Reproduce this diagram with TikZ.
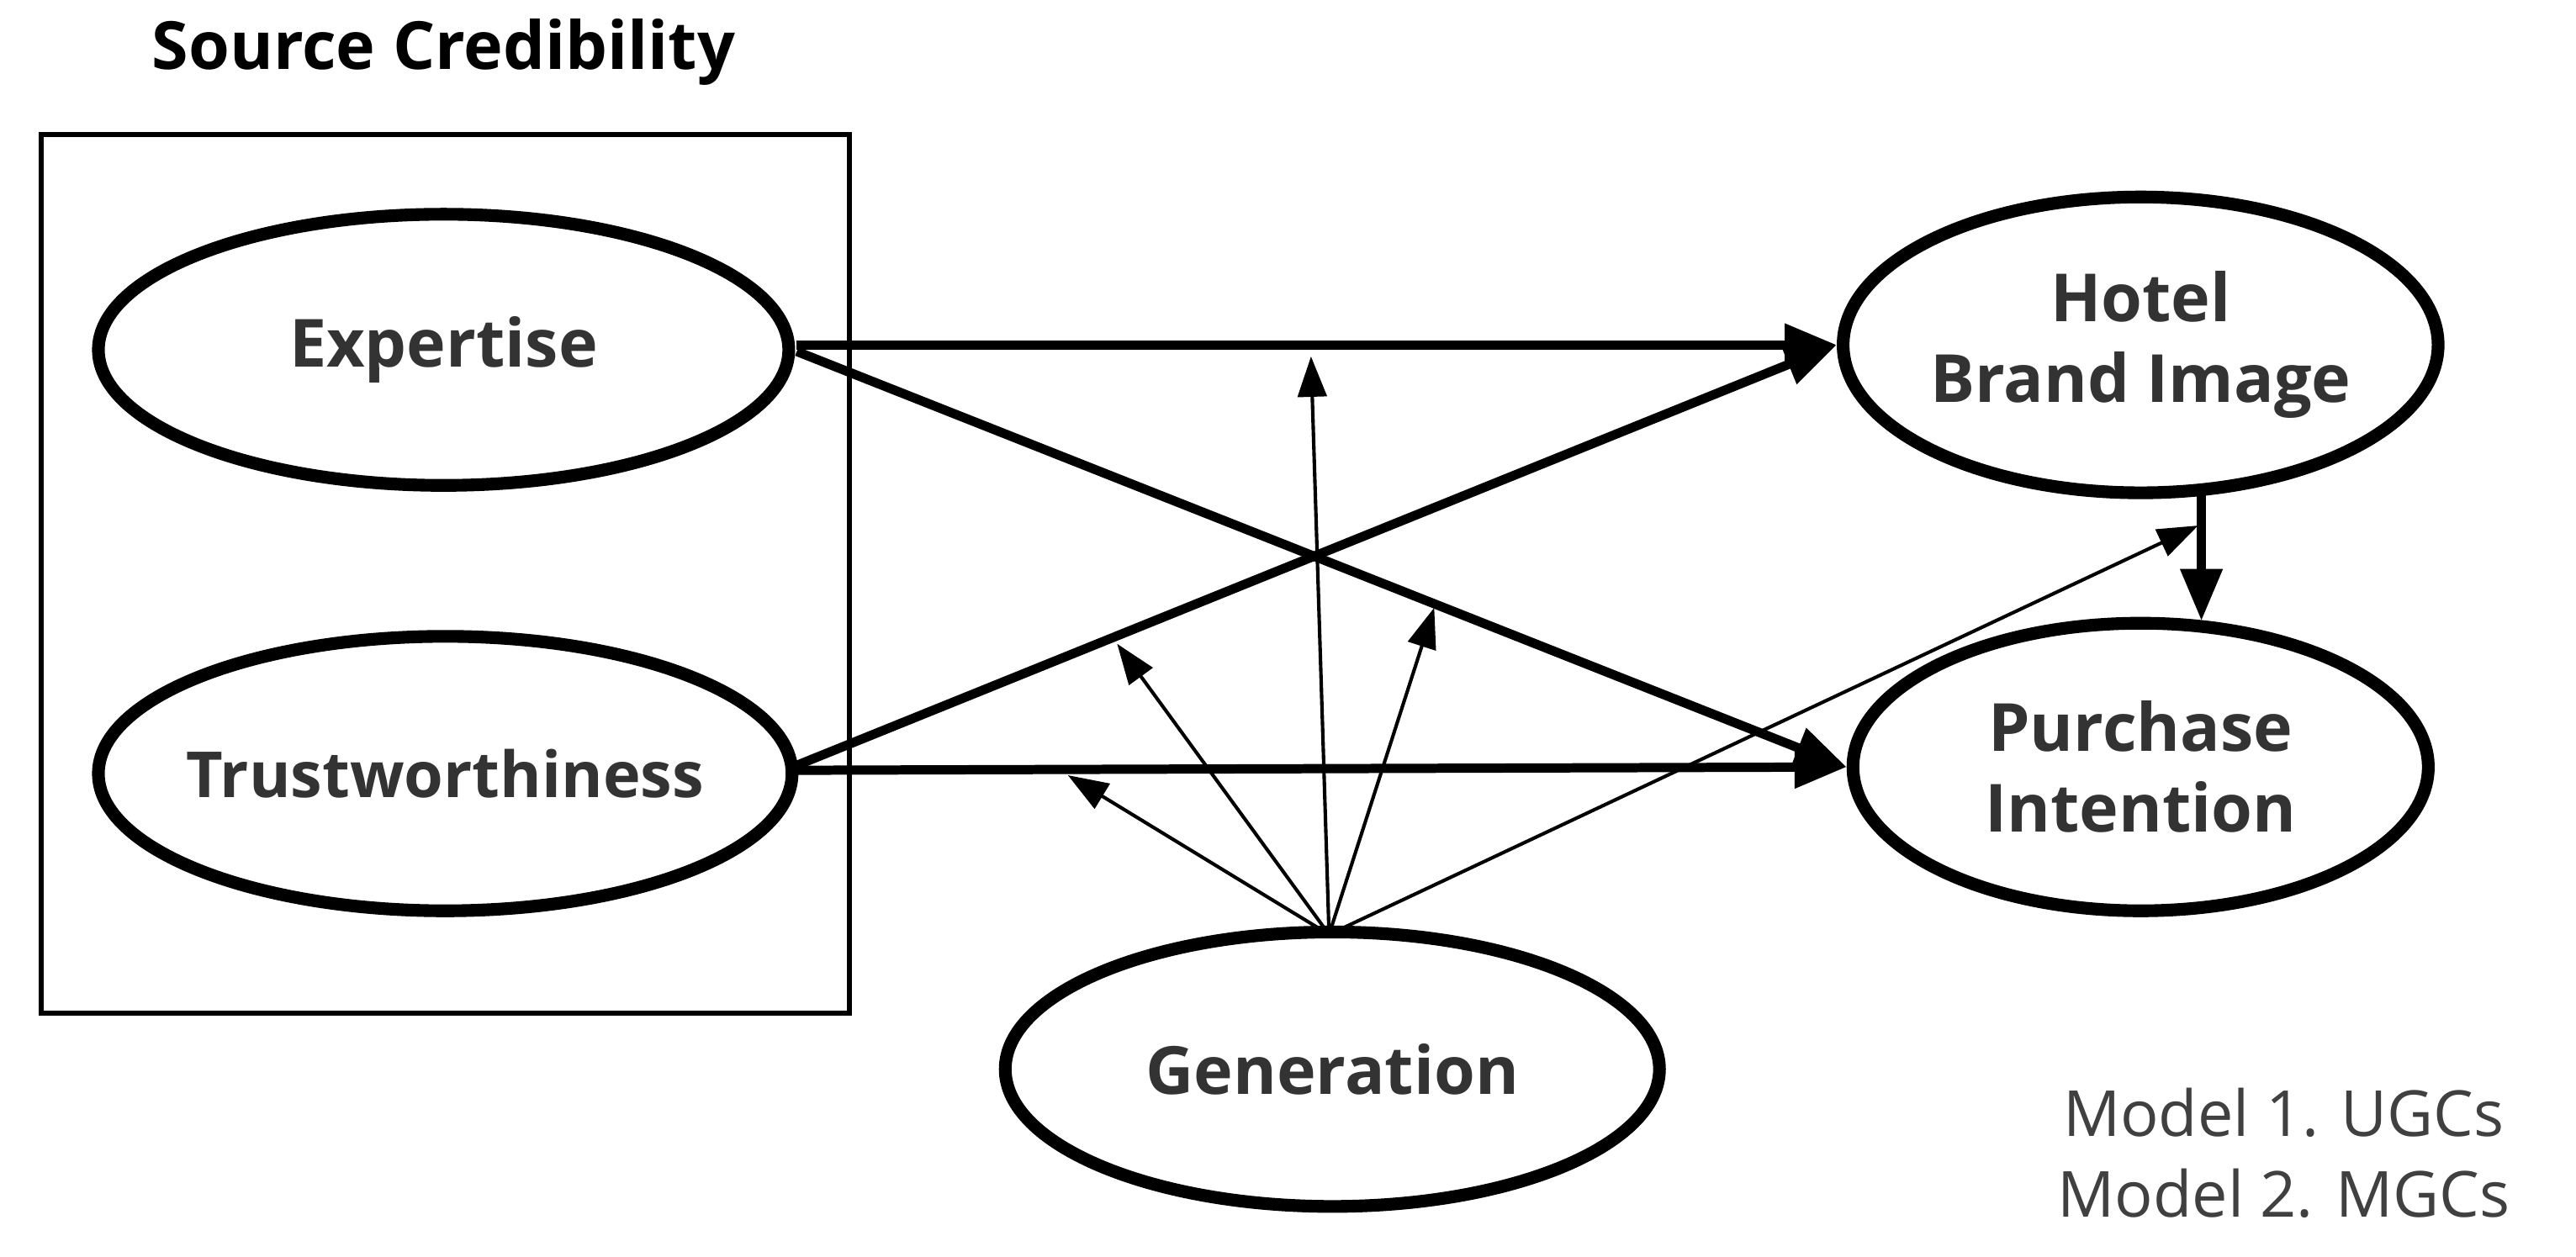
\documentclass[tikz,border=0pt]{standalone}
\usepackage{fontspec}
\setmainfont{Open Sans}
\usetikzlibrary{shapes.geometric,arrows.meta}
\begin{document}
\begin{tikzpicture}[x=0.01cm,y=-0.01cm,
  ell/.style={ellipse,draw,line width=2.2pt,inner sep=0pt,font=\fontsize{11.5}{14}\selectfont\bfseries,text=black!80,align=center},
  thick arr/.style={line width=1.6pt,-{Triangle[length=9pt,width=7pt]}},
  thin arr/.style={line width=0.6pt,-{Triangle[length=7pt,width=5pt]}}]
\useasboundingbox (0,0) rectangle (1568,765);
\node[font=\fontsize{11.5}{14}\selectfont\bfseries] (title) at (270,32) {Source Credibility};
\draw[line width=0.8pt] (25,82) rectangle (517,617);
\node[ell,minimum width=4.2cm,minimum height=1.65cm] (exp) at (270,213) {Expertise};
\node[ell,inner sep=-9pt,font=\fontsize{11}{14}\selectfont\bfseries,minimum width=4.22cm,minimum height=1.67cm] (tru) at (271,471) {Trustworthiness};
\node[ell,minimum width=3.5cm,minimum height=1.8cm] (hbi) at (1303,210) {Hotel\\Brand Image};
\node[ell,minimum width=3.5cm,minimum height=1.75cm] (pi) at (1303,467) {Purchase\\Intention};
\node[ell,minimum width=3.98cm,minimum height=1.67cm] (gen) at (811,651) {Generation};
\node[font=\fontsize{11}{14}\selectfont,text=black!75,align=center] (model) at (1390,702) {Model 1. UGCs\\Model 2. MGCs};
\coordinate (e1) at (485,210);
\coordinate (e2) at (485,214);
\coordinate (t1) at (485,466);
\coordinate (t2) at (485,469);
\draw[thick arr] (e1) -- (hbi.west);
\draw[thick arr] (e2) -- (pi.west);
\draw[thick arr] (t1) -- (hbi.west);
\draw[thick arr] (t2) -- (pi.west);
\coordinate (hb) at (1340,300);
\coordinate (pt) at (1340,378);
\draw[thick arr] (hb) -- (pt);
\coordinate (g) at (809,569);
\coordinate (m1) at (798,217);
\coordinate (m2) at (680,392);
\coordinate (m3) at (650,472);
\coordinate (m4) at (873,370);
\coordinate (m5) at (1338,320);
\foreach \m in {m1,m2,m3,m4,m5} \draw[thin arr] (g) -- (\m);
\end{tikzpicture}
\end{document}
